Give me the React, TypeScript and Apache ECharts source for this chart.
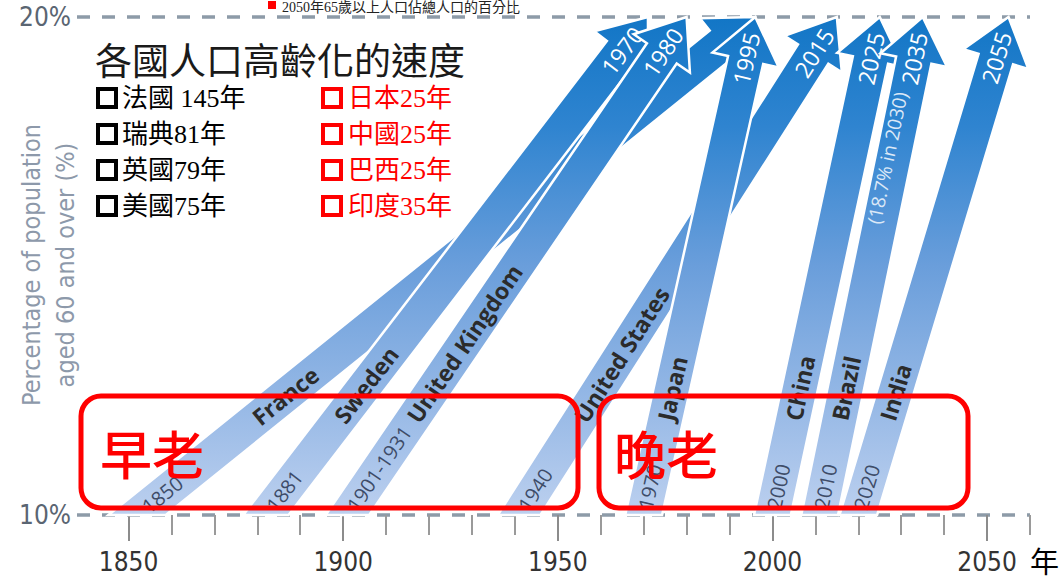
import React, { useEffect, useRef } from "react";
import * as echarts from "echarts";

// ---- data ----
const countries = ["France", "Sweden", "United Kingdom", "United States", "Japan", "China", "Brazil", "India"];
const startLabels = ["1850", "1881", "1901-1931", "1940", "1970", "2000", "2010", "2020"];
const endLabels = ["", "1970", "1980", "2015", "1995", "2025", "2035", "2055"];
const notes = ["", "", "", "", "", "", "(18.7% in 2030)", ""];
// year at which each arrow leaves the 10% line / reaches the 20% line
const startYears = [1852, 1882, 1901, 1941, 1970, 2000, 2011, 2020];
const endYears = [1996, 1971, 1980, 2015, 1996, 2025, 2035, 2055];
const baseLevel = 10;
const topLevel = 20;

const xMajorYears = [1850, 1900, 1950, 2000, 2050];
const xMinorYears = [1860, 1870, 1880, 1890, 1910, 1920, 1930, 1940, 1960, 1970, 1980, 1990, 2010, 2020, 2030, 2040, 2060];

const chartTitle = "各國人口高齡化的速度";
const caption = "2050年65歲以上人口佔總人口的百分比";
const legendLeft = ["法國 145年", "瑞典81年", "英國79年", "美國75年"];
const legendRight = ["日本25年", "中國25年", "巴西25年", "印度35年"];
const earlyText = "早老";
const lateText = "晚老";
const yearUnit = "年";
const yName = "Percentage of population\naged 60 and over (%)";

const NARROW = "'DejaVu Sans Condensed', 'Liberation Sans Narrow', sans-serif";
const SANS = "'Open Sans', 'Noto Sans', sans-serif";
const SERIF_CJK = "'Liberation Serif', 'Noto Sans CJK TC', serif";
const CJK = "'Noto Sans CJK TC', sans-serif";

function buildOption() {
  const data = startYears.map((s, i) => [s, baseLevel, endYears[i], topLevel]);

  const renderItem = (params: any, api: any) => {
    const i = params.dataIndex;
    const p0 = api.coord([api.value(0), api.value(1)]);
    const p1 = api.coord([api.value(2), api.value(3)]);
    const dx = p1[0] - p0[0];
    const dy = p1[1] - p0[1];
    const len = Math.hypot(dx, dy);
    const ux = dx / len;
    const uy = dy / len;
    const nx = -uy;
    const ny = ux;
    const W = 18;
    const H = 34;
    const L = 44;
    const bx = p1[0] - ux * L;
    const by = p1[1] - uy * L;
    const edge = (s: number) => {
      const ex = bx + s * nx * W;
      const ey = by + s * ny * W;
      const t = (p0[1] - ey) / uy;
      return [ex + ux * t, p0[1]];
    };
    const pts = [
      edge(-1),
      [bx - nx * W, by - ny * W],
      [bx - nx * H, by - ny * H],
      [p1[0], p1[1]],
      [bx + nx * H, by + ny * H],
      [bx + nx * W, by + ny * W],
      edge(1),
    ];
    const rot = Math.atan2(-dy, dx);
    const rise = p0[1] - p1[1];
    const at = (pix: number) => [p0[0] + dx * (pix / rise), p0[1] + dy * (pix / rise)];
    const cPos = at(95);
    const sPos = at(6);
    const ePos = [p1[0] - ux * 16, p1[1] - uy * 16];
    const nPos = [p1[0] - ux * 78 - nx * 6, p1[1] - uy * 78 - ny * 6];
    const grad = new echarts.graphic.LinearGradient(0, p1[1], 0, p0[1], [
      { offset: 0, color: "#1276c6" },
      { offset: 0.22, color: "#2f84d0" },
      { offset: 0.5, color: "#6a9edb" },
      { offset: 0.78, color: "#97b9e6" },
      { offset: 1, color: "#bcd0ef" },
    ], true);
    const children: any[] = [
      {
        type: "polygon",
        shape: { points: pts },
        style: { fill: grad, stroke: "#ffffff", lineWidth: 2.5, lineJoin: "miter" },
      },
      {
        type: "text",
        x: cPos[0], y: cPos[1], rotation: rot,
        style: { text: countries[i], fill: "#2b2b2b", fontSize: 23, fontWeight: "bold", fontFamily: SANS, align: "left", verticalAlign: "middle" },
      },
      {
        type: "text",
        x: sPos[0], y: sPos[1], rotation: rot,
        style: { text: startLabels[i], fill: "#3e4c68", fontSize: 20, fontFamily: SANS, align: "left", verticalAlign: "middle" },
      },
    ];
    if (endLabels[i]) {
      children.push({
        type: "text",
        x: ePos[0], y: ePos[1], rotation: rot,
        style: { text: endLabels[i], fill: "#ffffff", fontSize: 23, fontFamily: SANS, align: "right", verticalAlign: "middle" },
      });
    }
    if (notes[i]) {
      children.push({
        type: "text",
        x: nPos[0], y: nPos[1], rotation: rot,
        style: { text: notes[i], fill: "#dbe8f7", fontSize: 19, fontFamily: SANS, align: "right", verticalAlign: "middle" },
      });
    }
    return { type: "group", children };
  };

  const graphics: any[] = [];
  // caption at the very top
  graphics.push({ type: "rect", z: 100, shape: { x: 268, y: 1, width: 8, height: 8 }, style: { fill: "#ff0000" } });
  graphics.push({ type: "text", z: 100, x: 282, y: 0, style: { text: caption, fontSize: 14, fill: "#222", fontFamily: SERIF_CJK, verticalAlign: "top" } });
  // y axis title
  graphics.push({
    type: "text", z: 100, x: 48, y: 265, rotation: Math.PI / 2,
    style: { text: yName, fontSize: 25, lineHeight: 34, fill: "#8d99aa", fontFamily: NARROW, align: "center", verticalAlign: "middle" },
  });
  // title
  graphics.push({ type: "text", z: 100, x: 95, y: 59, style: { text: chartTitle, fontSize: 37, fill: "#1a1a1a", fontFamily: CJK, verticalAlign: "middle" } });
  const rowsY = [98, 134, 170, 206];
  legendLeft.forEach((t, k) => {
    graphics.push({ type: "rect", z: 100, shape: { x: 98, y: rowsY[k] - 9, width: 18, height: 18 }, style: { fill: "transparent", stroke: "#000", lineWidth: 4 } });
    graphics.push({ type: "text", z: 100, x: 122, y: rowsY[k], style: { text: t, fontSize: 26, fill: "#000", fontFamily: SERIF_CJK, verticalAlign: "middle" } });
  });
  legendRight.forEach((t, k) => {
    graphics.push({ type: "rect", z: 100, shape: { x: 323, y: rowsY[k] - 9, width: 18, height: 18 }, style: { fill: "transparent", stroke: "#ff0000", lineWidth: 4 } });
    graphics.push({ type: "text", z: 100, x: 348, y: rowsY[k], style: { text: t, fontSize: 26, fill: "#ff0000", fontFamily: SERIF_CJK, verticalAlign: "middle" } });
  });
  // red boxes
  graphics.push({ type: "rect", z: 100, shape: { x: 81, y: 396, width: 497, height: 112, r: 20 }, style: { fill: "transparent", stroke: "#ff0000", lineWidth: 5 } });
  graphics.push({ type: "rect", z: 100, shape: { x: 599, y: 396, width: 369, height: 112, r: 20 }, style: { fill: "transparent", stroke: "#ff0000", lineWidth: 5 } });
  graphics.push({ type: "text", z: 101, x: 100, y: 452, style: { text: earlyText, fontSize: 52, fill: "#ff0000", fontWeight: 500, fontFamily: CJK, verticalAlign: "middle" } });
  graphics.push({ type: "text", z: 101, x: 614, y: 452, style: { text: lateText, fontSize: 52, fill: "#ff0000", fontWeight: 500, fontFamily: CJK, verticalAlign: "middle" } });
  graphics.push({ type: "text", z: 100, x: 1030, y: 563, style: { text: yearUnit, fontSize: 29, fill: "#000", fontFamily: SERIF_CJK, verticalAlign: "middle" } });

  return {
    animation: false,
    backgroundColor: "#ffffff",
    grid: { left: 77, right: 29, top: 17, bottom: 66, containLabel: false, outerBoundsMode: "none" },
    xAxis: [
      {
        type: "value", min: 1838, max: 2060, position: "bottom",
        axisLine: { show: false },
        splitLine: { show: false },
        axisTick: { show: true, customValues: xMajorYears, length: 26, lineStyle: { color: "#8c8c8c", width: 2 } },
        axisLabel: { show: true, customValues: xMajorYears, margin: 34, fontSize: 26, color: "#333333", fontFamily: NARROW, formatter: (v: number) => String(v) },
      },
      {
        type: "value", min: 1838, max: 2060, position: "bottom",
        axisLine: { show: false },
        splitLine: { show: false },
        axisTick: { show: true, customValues: xMinorYears, length: 20, lineStyle: { color: "#9a9a9a", width: 2 } },
        axisLabel: { show: false },
      },
    ],
    yAxis: {
      type: "value", min: 10, max: 20, interval: 10,
      axisLine: { show: false },
      axisTick: { show: false },
      axisLabel: { formatter: "{value}%", fontSize: 26, color: "#5a6572", fontFamily: NARROW, margin: 6 },
      splitLine: { show: true, lineStyle: { color: "#8d9ba8", width: 3.5, type: [13, 12] } },
    },
    series: [
      {
        type: "custom",
        xAxisIndex: 0,
        yAxisIndex: 0,
        renderItem,
        encode: { x: [0, 2], y: [1, 3] },
        data,
        z: 5,
      },
    ],
    graphic: graphics,
  };
}

export default function App() {
  const ref = useRef<HTMLDivElement>(null);
  useEffect(() => {
    const chart = echarts.init(ref.current as HTMLDivElement, null, { renderer: "svg" });
    chart.setOption(buildOption() as any);
    return () => chart.dispose();
  }, []);
  return (
    <div
      ref={ref}
      style={{ position: "fixed", left: 0, top: 0, width: 1059, height: 581, background: "#fff" }}
    />
  );
}
